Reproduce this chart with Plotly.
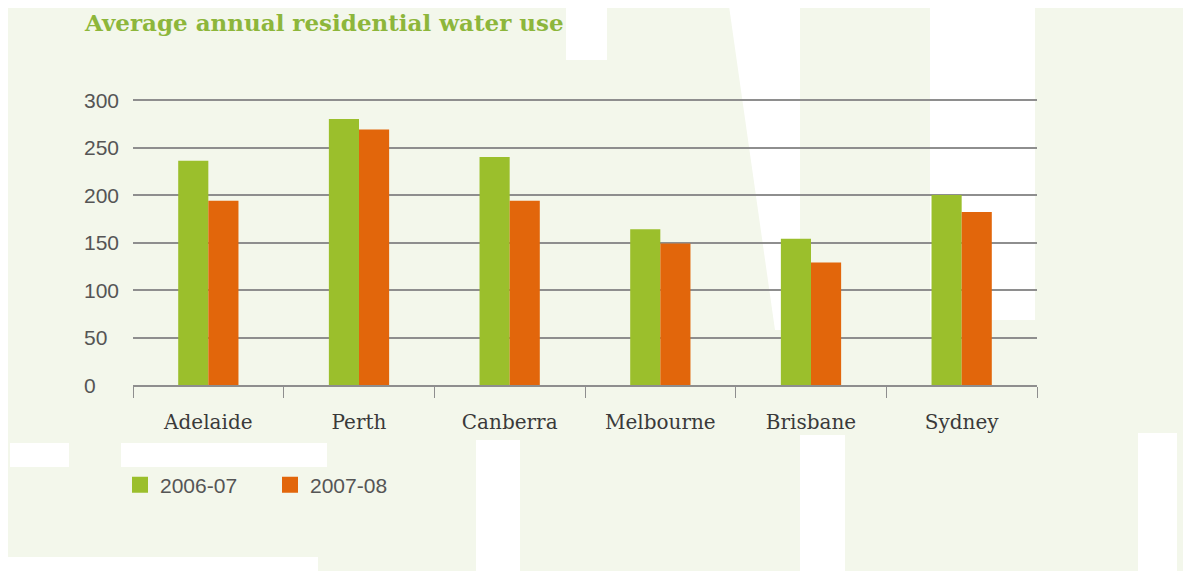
import plotly.graph_objects as go

# ---------------- data ----------------
cities = ["Adelaide", "Perth", "Canberra", "Melbourne", "Brisbane", "Sydney"]
use_2006_07 = [236, 280, 240, 164, 154, 200]
use_2007_08 = [194, 269, 194, 149, 129, 182]
series_names = ["2006-07", "2007-08"]
y_ticks = [0, 50, 100, 150, 200, 250, 300]
y_tick_labels = ["0", "50", "100", "150", "200", "250", "300"]
title_text = "Average annual residential water use"

# ---------------- style ----------------
GREEN = "#9bbf2c"
ORANGE = "#e2660b"
TITLE_GREEN = "#8db63b"
GRID = "#8e8e8e"
BG_GREEN = "#f3f7eb"
OFF = 8                      # page body margin
W, H = 1175, 563
L, T = 125, 87
PW, PH = 904, 290
R = W - L - PW
B = H - T - PH
Y_TOP = PH / 0.95            # 0.95 px per unit


def px(x):
    """screen x (reference pixels) -> paper x"""
    return (x - OFF - L) / PW


def py(y):
    """screen y (reference pixels) -> paper y"""
    return (T + PH - (y - OFF)) / PH


fig = go.Figure()
for name, vals, col in [(series_names[0], use_2006_07, GREEN),
                        (series_names[1], use_2007_08, ORANGE)]:
    fig.add_trace(go.Bar(x=cities, y=vals, name=name, legendgroup=name,
                         showlegend=False,
                         marker=dict(color=col, line=dict(width=0))))
# legend entries with larger square swatches
for name, col in [(series_names[0], GREEN), (series_names[1], ORANGE)]:
    fig.add_trace(go.Scatter(x=[None], y=[None], mode="markers", name=name,
                             legendgroup=name,
                             marker=dict(symbol="square", size=16, color=col,
                                         line=dict(width=0))))

# faint watermark background (decoration)
shapes = [dict(type="rect", xref="paper", yref="paper", layer="below",
               x0=px(8), x1=px(1200), y0=py(6), y1=py(600),
               fillcolor=BG_GREEN, line=dict(width=0))]
white_polys = [
    [(566, 6), (607, 6), (607, 60), (566, 60)],
    [(729, 6), (800, 6), (800, 330), (775, 330)],
    [(930, 6), (1035, 6), (1035, 320), (930, 320)],
    [(10, 443), (69, 443), (69, 467), (10, 467)],
    [(121, 443), (327, 443), (327, 467), (121, 467)],
    [(0, 557), (318, 557), (318, 600), (0, 600)],
    [(476, 440), (520, 440), (520, 600), (476, 600)],
    [(800, 435), (845, 435), (845, 600), (800, 600)],
    [(1138, 433), (1177, 433), (1177, 600), (1138, 600)],
]
for poly in white_polys:
    path = "M " + " L ".join(f"{px(a):.5f},{py(b):.5f}" for a, b in poly) + " Z"
    shapes.append(dict(type="path", xref="paper", yref="paper", layer="below",
                       path=path, fillcolor="#ffffff", line=dict(width=0)))

annotations = [dict(text=title_text, xref="paper", yref="paper",
                    x=px(82), y=py(22), xanchor="left", yanchor="middle",
                    showarrow=False,
                    font=dict(family="DejaVu Serif", size=23, color=TITLE_GREEN,
                              weight="bold"))]
for v, lab in zip(y_ticks, y_tick_labels):
    annotations.append(dict(text=lab, xref="paper", yref="y", x=px(82), y=v,
                            xanchor="left", yanchor="middle", showarrow=False,
                            font=dict(family="Liberation Sans", size=21, color="#555555")))

fig.update_layout(
    width=W, height=H,
    margin=dict(l=L, r=R, t=T, b=B, pad=0),
    paper_bgcolor="#ffffff", plot_bgcolor="rgba(0,0,0,0)",
    barmode="group", bargap=0.6, bargroupgap=0,
    showlegend=True,
    legend=dict(orientation="h", x=px(120), y=py(485), xanchor="left", yanchor="middle",
                font=dict(family="Liberation Sans", size=21, color="#555555"),
                bgcolor="rgba(0,0,0,0)", entrywidth=105, traceorder="normal",
                itemsizing="trace"),
    shapes=shapes, annotations=annotations,
    xaxis=dict(showline=True, linecolor=GRID, linewidth=2, ticks="outside",
               tickson="boundaries", ticklen=11, tickwidth=1, tickcolor=GRID,
               showgrid=False, ticklabelstandoff=18,
               tickfont=dict(family="DejaVu Serif", size=20, color="#3a3a3a")),
    yaxis=dict(range=[0, Y_TOP], tickvals=y_ticks, showticklabels=False,
               showgrid=True, gridcolor=GRID, gridwidth=2, zeroline=False,
               showline=False, ticks=""),
)

fig.write_html("out.html")
